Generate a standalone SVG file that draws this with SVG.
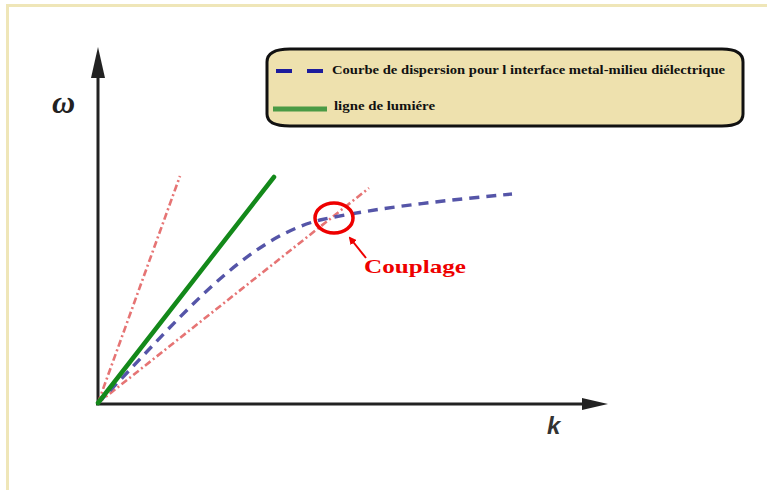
<svg xmlns="http://www.w3.org/2000/svg" width="767" height="490" viewBox="0 0 767 490">
<style>
.axis{stroke:#222;stroke-width:3;fill:none}
.red{stroke:#e67474;stroke-width:2.6;fill:none;stroke-dasharray:7 3 2 3}
.blue{stroke:#5555a8;stroke-width:3.4;fill:none;stroke-dasharray:10 7}
.green{stroke:#13891a;stroke-width:4.5;fill:none;stroke-linecap:round}
.leg{font-family:"Liberation Serif",serif;font-weight:bold;font-size:11.5px;fill:#111}
</style>
<defs>
<marker id="ra" markerWidth="8" markerHeight="8" refX="6" refY="4" orient="auto" markerUnits="userSpaceOnUse"><path d="M0,0 L8,4 L0,8 Z" fill="#e00"/></marker>
</defs>
<rect x="0" y="0" width="767" height="490" fill="#fff"/>
<rect x="7.5" y="5.5" width="780" height="500" fill="none" stroke="#efe6b8" stroke-width="3"/>
<g id="legend">
<path d="M290,49 L722,49 Q743,49 743,62 L743,114 Q743,126 722,126 L290,126 Q267,126 267,114 L267,62 Q267,49 290,49 Z" fill="#eee1ae" stroke="#111" stroke-width="3"/>
<line x1="276" y1="71" x2="292" y2="71" stroke="#1c1c9c" stroke-width="4"/>
<line x1="307" y1="71" x2="323" y2="71" stroke="#1c1c9c" stroke-width="4"/>
<text class="leg" x="332" y="74" textLength="393" lengthAdjust="spacingAndGlyphs">Courbe de dispersion pour l interface metal-milieu diélectrique</text>
<line x1="273" y1="109" x2="327" y2="109" stroke="#4a9a45" stroke-width="5"/>
<text class="leg" x="334" y="110" textLength="101" lengthAdjust="spacingAndGlyphs">ligne de lumiére</text>
</g>
<g id="axes">
<line class="axis" x1="98" y1="405" x2="98" y2="72"/>
<polygon points="98,47 91,78 105,78" fill="#222"/>
<line class="axis" x1="96" y1="404" x2="584" y2="404"/>
<polygon points="608,404 582,398 582,410" fill="#222"/>
<text x="52" y="113" font-family="Liberation Serif,serif" font-style="italic" font-weight="bold" font-size="32" fill="#222">ω</text>
<text x="547" y="434" font-family="Liberation Sans,sans-serif" font-style="italic" font-weight="bold" font-size="24" fill="#333">k</text>
</g>
<g id="curves">
<line class="red" x1="98" y1="403" x2="180" y2="176"/>
<line class="red" x1="98" y1="403" x2="369" y2="188"/>
<path class="blue" d="M98,403 C170,330 240,240 320,220 C380,207 450,200 512,194"/>
<line class="green" x1="98" y1="403" x2="274" y2="177"/>
</g>
<g id="couplage">
<ellipse cx="334" cy="218" rx="19" ry="15" fill="none" stroke="#e00" stroke-width="3.5"/>
<line x1="366" y1="258" x2="350" y2="238" stroke="#e00" stroke-width="2" marker-end="url(#ra)"/>
<text x="364" y="273" font-family="Liberation Serif,serif" font-weight="bold" font-size="19" fill="#e00" textLength="102" lengthAdjust="spacingAndGlyphs">Couplage</text>
</g>
</svg>
